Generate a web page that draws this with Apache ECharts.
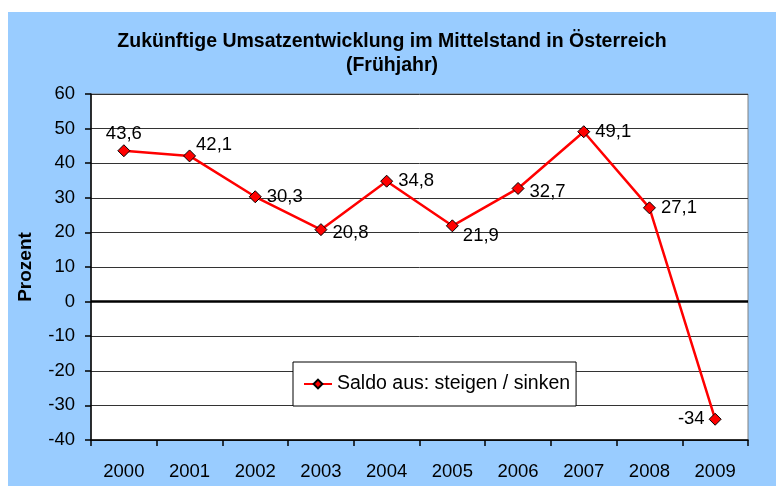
<!DOCTYPE html>
<html>
<head>
<meta charset="utf-8">
<script src="https://cdn.jsdelivr.net/npm/echarts@6/dist/echarts.min.js"></script>
<style>
  body { margin: 0; background: #ffffff; }
  #main { position: absolute; left: 8px; top: 12px; width: 768px; height: 474px; }
</style>
</head>
<body>
<div id="main"></div>
<script>
let years = ["2000", "2001", "2002", "2003", "2004", "2005", "2006", "2007", "2008", "2009"];
let saldo = [43.6, 42.1, 30.3, 20.8, 34.8, 21.9, 32.7, 49.1, 27.1, -34];
let seriesName = "Saldo aus: steigen / sinken";

function fmt(v) {
    return String(v).replace(".", ",");
}

// where each label sits next to its point
function labelFor(i) {
    if (i === 0) return { position: "top", distance: 1 };
    if (i === 1) return { position: "right", distance: 0, offset: [0, -11] };
    if (i === 3) return { position: "right", offset: [0, 3] };
    if (i === 5) return { position: "right", distance: 4, offset: [0, 10] };
    if (i === 6) return { position: "right", offset: [0, 3] };
    if (i === years.length - 1) return { position: "left", distance: 4 };
    return { position: "right" };
}

let points = saldo.map(function (v, i) {
    return { value: v, label: labelFor(i) };
});

let myChart = echarts.init(document.getElementById("main"));

let font = "'Liberation Sans', Arial, sans-serif";

let option = {
    backgroundColor: "#99CCFF",
    animation: false,
    textStyle: { fontFamily: font },
    title: {
        text: "Zukünftige Umsatzentwicklung im Mittelstand in Österreich\n(Frühjahr)",
        left: "center",
        top: 13,
        textStyle: { fontFamily: font, fontSize: 19.5, fontWeight: "bold", color: "#000", lineHeight: 24 }
    },
    grid: {
        left: 81,
        right: 28,
        top: 82,
        bottom: 46,
        show: true,
        backgroundColor: "#ffffff",
        borderColor: "#808080",
        borderWidth: 1
    },
    legend: {
        left: 285,
        top: 350,
        padding: [12, 6, 12, 10],
        backgroundColor: "#ffffff",
        borderColor: "#000000",
        borderWidth: 1,
        itemWidth: 28,
        itemHeight: 11,
        itemGap: 4,
        textStyle: { fontFamily: font, fontSize: 19.5, color: "#000" },
        data: [seriesName]
    },
    xAxis: {
        type: "category",
        data: years,
        axisLine: { onZero: false, lineStyle: { color: "#000", width: 1.5 } },
        axisTick: { show: true, length: 6, lineStyle: { color: "#000", width: 1.5 } },
        axisLabel: { fontFamily: font, fontSize: 18.5, color: "#000", margin: 22 },
        splitLine: { show: false }
    },
    yAxis: {
        type: "value",
        min: -40,
        max: 60,
        interval: 10,
        name: "Prozent",
        nameLocation: "middle",
        nameGap: 56,
        nameTextStyle: { fontFamily: font, fontSize: 19, fontWeight: "bold", color: "#000" },
        axisLine: { show: true, lineStyle: { color: "#000", width: 1.5 } },
        axisTick: { show: true, length: 6, lineStyle: { color: "#000", width: 1.5 } },
        axisLabel: { fontFamily: font, fontSize: 18.5, color: "#000", margin: 16 },
        splitLine: { show: true, lineStyle: { color: "#333", width: 1 } }
    },
    series: [
        {
            name: seriesName,
            type: "line",
            data: points,
            symbol: "diamond",
            symbolSize: 12,
            lineStyle: { color: "#FF0000", width: 2.5 },
            itemStyle: { color: "#FF0000", borderColor: "#000", borderWidth: 1 },
            label: {
                show: true,
                fontFamily: font,
                fontSize: 18.5,
                color: "#000",
                formatter: function (p) { return fmt(p.value); }
            },
            markLine: {
                silent: true,
                symbol: "none",
                label: { show: false },
                lineStyle: { color: "#000", width: 2.5, type: "solid" },
                data: [{ yAxis: 0 }]
            },
            z: 3
        }
    ]
};

myChart.setOption(option);
</script>
</body>
</html>
